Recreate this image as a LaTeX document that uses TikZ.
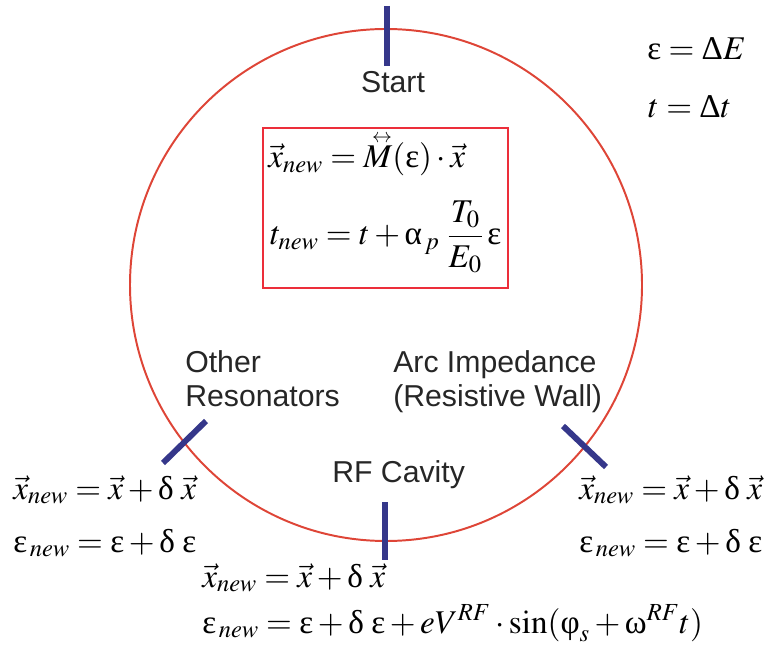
\documentclass[tikz,border=0pt]{standalone}
\usepackage{amsmath}
\usepackage{mathptmx}
\usepackage{fontspec}
\setmainfont{Liberation Serif}
\setsansfont{Liberation Sans}
\usepackage{tikz}
\definecolor{ringRed}{HTML}{DE4537}
\definecolor{boxRed}{HTML}{EC2E3A}
\definecolor{barBlue}{HTML}{35378A}
\definecolor{labelGray}{HTML}{262626}
% upright greek from the text font
\newcommand{\ueps}{\text{ε}}
\newcommand{\udel}{\text{δ}}
\newcommand{\uDel}{\text{Δ}}
% matrix with a small two-headed arrow on top
\newcommand{\tmat}[1]{\overset{\raisebox{-1.1ex}[0pt][0pt]{$\scriptscriptstyle\kern0.25em\leftrightarrow$}}{#1}}

\begin{document}
\begin{tikzpicture}[
    lbl/.style={font=\sffamily\fontsize{21.5}{24.2}\selectfont, text=labelGray, inner sep=0pt, align=left, anchor=base west},
    eq/.style={font=\fontsize{23.6}{28}\selectfont, inner sep=0pt, anchor=base west},
    bar/.style={barBlue, line width=4.2pt}]
  \useasboundingbox (0,0) rectangle (19.2,16.45);
  % ------- the ring and the kick points -------
  \draw[ringRed, line width=1.4pt] (9.65,9.325) circle (6.4);
  \draw[bar] (9.675,16.3) -- (9.675,14.8);
  \draw[bar] (9.625,3.9) -- (9.625,2.45);
  \draw[bar] (4.075,4.875) -- (5.15,5.925);
  \draw[bar] (14.075,5.8) -- (15.15,4.775);
  % ------- labels (base = last line) -------
  \node[lbl, anchor=base] (start) at (9.825,14.125) {Start};
  \node[lbl] (other) at (4.625,6.275) {Other\\Resonators};
  \node[lbl] (arc) at (9.825,6.275) {Arc Impedance\\(Resistive Wall)};
  \node[lbl] (rfcav) at (8.3,4.4) {RF Cavity};
  % ------- one-turn map in the middle -------
  \node[draw=boxRed, line width=0.8pt, minimum width=6.125cm, minimum height=4cm] (mapbox) at (9.6375,11.25) {};
  \node[eq] (mapx) at (6.7,12.25) {$\vec{x}_{new} = \tmat{M}(\ueps)\cdot\vec{x}$};
  \node[eq] (mapt) at (6.75,10.325) {$t_{new} = t + \text{α}_{\,p}\;\dfrac{T_0}{E_0}\,\ueps$};
  % ------- definitions -------
  \node[eq] (defe) at (16.175,14.95) {$\ueps = \uDel E$};
  \node[eq] (deft) at (16.2,13.5) {$t = \uDel t$};
  % ------- kicks -------
  \node[eq] (leftx) at (0.325,3.975) {$\vec{x}_{new} = \vec{x} + \udel\;\vec{x}$};
  \node[eq] (lefte) at (0.325,2.65) {$\ueps_{\,new} = \ueps + \udel\;\ueps$};
  \node[eq] (rightx) at (14.475,3.975) {$\vec{x}_{new} = \vec{x} + \udel\;\vec{x}$};
  \node[eq] (righte) at (14.475,2.65) {$\ueps_{\,new} = \ueps + \udel\;\ueps$};
  \node[eq] (rfx) at (5.05,1.775) {$\vec{x}_{new} = \vec{x} + \udel\;\vec{x}$};
  \node[eq] (rfe) at (5.05,0.625) {$\ueps_{\,new} = \ueps + \udel\;\ueps + eV^{RF}\cdot\sin(\text{φ}_s + \text{ω}^{RF}t)$};
\end{tikzpicture}
\end{document}
